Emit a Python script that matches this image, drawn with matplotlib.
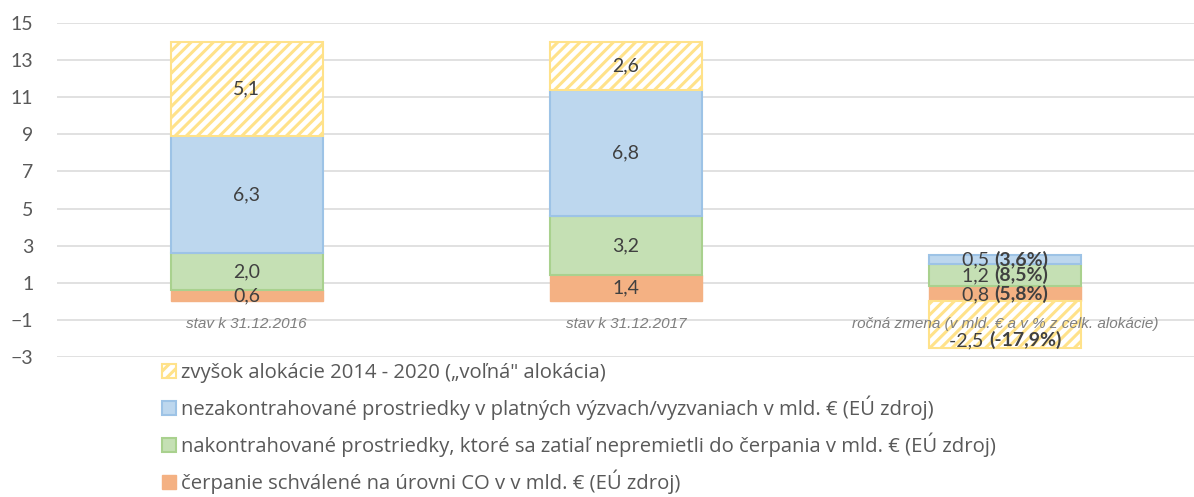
import matplotlib.pyplot as plt
import numpy as np
from matplotlib.offsetbox import TextArea, HPacker, AnnotationBbox

plt.rcParams['font.family'] = ['Lato', 'DejaVu Sans']
plt.rcParams['hatch.linewidth'] = 2.2

categories = ['stav k 31.12.2016', 'stav k 31.12.2017',
              'ročná zmena (v mld. € a v % z celk. alokácie)']
cerpanie = [0.6, 1.4, 0.8]
nakontrahovane = [2.0, 3.2, 1.2]
nezakontrahovane = [6.3, 6.8, 0.5]
zvysok = [5.1, 2.6, -2.5]
zmena_pct = ['5,8%', '8,5%', '3,6%', '-17,9%']  # orange, green, blue, yellow

legend_labels = [
    'zvyšok alokácie 2014 - 2020 („voľná" alokácia)',
    'nezakontrahované prostriedky v platných výzvach/vyzvaniach v mld. € (EÚ zdroj)',
    'nakontrahované prostriedky, ktoré sa zatiaľ nepremietli do čerpania v mld. € (EÚ zdroj)',
    'čerpanie schválené na úrovni CO v v mld. € (EÚ zdroj)',
]

def fmt(v):
    return f'{v:.1f}'.replace('.', ',')

fig = plt.figure(figsize=(11.94, 4.97), dpi=100)
ax = fig.add_axes([57 / 1194, 1 - 357 / 497, 1 - 57 / 1194, (357 - 23) / 497])

x = np.arange(len(categories))
w = 0.40

cerp = np.array(cerpanie)
nak = np.array(nakontrahovane)
nez = np.array(nezakontrahovane)
zv = np.array(zvysok)

b_or = ax.bar(x, cerp, w, color='#F4B183', edgecolor='#F4B183', linewidth=1, zorder=3)
b_gr = ax.bar(x, nak, w, bottom=cerp, color='#C5E0B4', edgecolor='#A9D18E', linewidth=1.5, zorder=3)
b_bl = ax.bar(x, nez, w, bottom=cerp + nak, color='#BDD7EE', edgecolor='#9DC3E6', linewidth=1.5, zorder=3)
# the last change is negative, so it hangs below zero
zv_bottom = np.where(zv >= 0, cerp + nak + nez, 0)
b_ye = ax.bar(x, zv, w, bottom=zv_bottom, color='white', edgecolor='#FFE28A',
              hatch='///', linewidth=1.5, zorder=3)

ax.set_xlim(-0.5, 2.5 - 3 / 1140)
ax.set_ylim(-3, 15)
ax.set_yticks(np.arange(-3, 16, 2))
ax.tick_params(axis='y', length=0, pad=17, labelsize=14, labelcolor='#595959')
ax.set_xticks([])
for s in ax.spines.values():
    s.set_visible(False)
ax.grid(axis='y', color='#D9D9D9', linewidth=1.1, zorder=0)
ax.set_axisbelow(True)

lab_color = '#404040'

# value labels for the two states
for i in range(2):
    segs = [(cerp[i], 0), (nak[i], cerp[i]), (nez[i], cerp[i] + nak[i]), (zv[i], zv_bottom[i])]
    for v, b in segs:
        ax.text(x[i], b + v / 2, fmt(v), ha='center', va='center',
                fontsize=14, color=lab_color, zorder=5)

# annual change: value plus bold share of allocation
i = 2
change = [(cerp[i], cerp[i] / 2, zmena_pct[0]),
          (nak[i], cerp[i] + nak[i] / 2, zmena_pct[1]),
          (nez[i], cerp[i] + nak[i] + nez[i] / 2, zmena_pct[2]),
          (zv[i], zv[i] + 0.42, zmena_pct[3])]
for v, ypos, pct in change:
    t1 = TextArea(fmt(v) + ' ', textprops=dict(fontsize=14, color=lab_color))
    t2 = TextArea('(' + pct + ')', textprops=dict(fontsize=14, color=lab_color, fontweight='bold'))
    box = HPacker(children=[t1, t2], pad=0, sep=0, align='baseline')
    ab = AnnotationBbox(box, (x[i], ypos), frameon=False, box_alignment=(0.5, 0.5),
                        pad=0, zorder=6)
    ax.add_artist(ab)

# category labels under the zero line
for xi, c in zip(x, categories):
    ax.annotate(c, (xi, 0), xytext=(0, -16), textcoords='offset points',
                ha='center', va='center', fontsize=11, style='italic',
                color='#7F7F7F', family='Liberation Sans', zorder=7)

handles = [b_ye, b_bl, b_gr, b_or]
leg = fig.legend(handles, legend_labels, loc='upper left',
                 bbox_to_anchor=(162 / 1194, 1 - 363 / 497), frameon=False,
                 prop={'family': 'Open Sans', 'size': 14.6}, labelcolor='#595959',
                 handlelength=0.68, handleheight=0.68,
                 handletextpad=0.28, labelspacing=0.62, borderpad=0, borderaxespad=0)

fig.savefig('out.png', dpi=100)
